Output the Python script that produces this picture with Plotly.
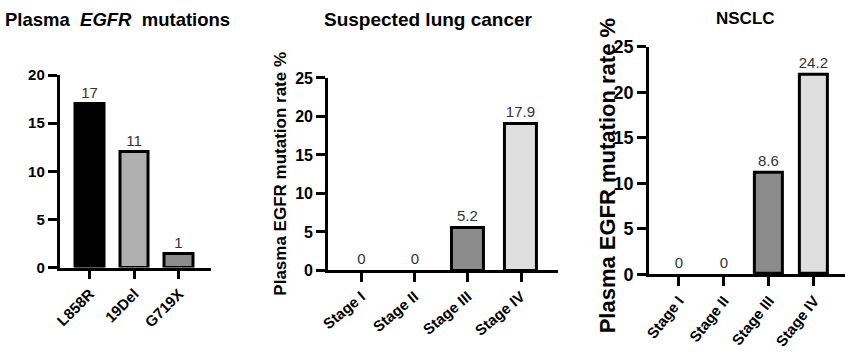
import plotly.graph_objects as go

# ---- data ----
mut_cats = ["L858R", "19Del", "G719X"]
mut_heights = [17, 12, 1.4]
mut_labels = ["17", "11", "1"]
mut_colors = ["#000000", "#b0b0b0", "#8c8c8c"]

stage_cats = ["Stage I", "Stage II", "Stage III", "Stage IV"]
susp_heights = [0, 0, 5.5, 19.0]
susp_labels = ["0", "0", "5.2", "17.9"]
nsclc_heights = [0, 0, 11.2, 21.9]
nsclc_labels = ["0", "0", "8.6", "24.2"]
stage_colors = ["#8c8c8c", "#8c8c8c", "#8c8c8c", "#dedede"]

W, H = 845, 355
FONT = "Liberation Sans, Arial, sans-serif"


def px_x(a, b):
    return [a / W, b / W]


def px_y(bottom, top):
    return [1 - bottom / H, 1 - top / H]


def outline(vals):
    return [3 if v > 0 else 0 for v in vals]


fig = go.Figure()

fig.add_trace(go.Bar(x=mut_cats, y=mut_heights, text=mut_labels, width=0.64,
                     marker=dict(color=mut_colors, line=dict(color="black", width=outline(mut_heights))),
                     textposition="outside", cliponaxis=False, constraintext="none",
                     textfont=dict(family=FONT, size=15, color="#333333"),
                     xaxis="x", yaxis="y", showlegend=False))
fig.add_trace(go.Bar(x=stage_cats, y=susp_heights, text=susp_labels, width=0.6,
                     marker=dict(color=stage_colors, line=dict(color="black", width=outline(susp_heights))),
                     textposition="outside", cliponaxis=False, constraintext="none",
                     textfont=dict(family=FONT, size=15, color="#333333"),
                     xaxis="x2", yaxis="y2", showlegend=False))
fig.add_trace(go.Bar(x=stage_cats, y=nsclc_heights, text=nsclc_labels, width=0.63,
                     marker=dict(color=stage_colors, line=dict(color="black", width=outline(nsclc_heights))),
                     textposition="outside", cliponaxis=False, constraintext="none",
                     textfont=dict(family=FONT, size=15, color="#333333"),
                     xaxis="x3", yaxis="y3", showlegend=False))

common_x = dict(showline=True, linecolor="black", linewidth=2.5, ticks="outside",
                ticklen=9, tickwidth=2.5, tickcolor="black", showgrid=False,
                zeroline=False, fixedrange=True)
common_y = dict(showline=True, linecolor="black", linewidth=2.5, ticks="outside",
                ticklen=9, tickwidth=2.5, tickcolor="black", showgrid=False,
                zeroline=False, dtick=5, tick0=0)

fig.update_layout(
    width=W, height=H, margin=dict(l=0, r=0, t=0, b=0),
    paper_bgcolor="white", plot_bgcolor="white",
    font=dict(family=FONT, color="black"),
    bargap=0,
    xaxis=dict(common_x, domain=px_x(52, 205), range=[-0.68, 2.72], anchor="y",
               tickangle=-45, tickfont=dict(family=FONT, size=15, weight="bold")),
    yaxis=dict(common_y, domain=px_y(273, 69), range=[0, 20], anchor="x",
               tickfont=dict(family=FONT, size=15, weight="bold")),
    xaxis2=dict(common_x, domain=px_x(323, 555), range=[-0.63, 3.69], anchor="y2",
                tickangle=-40, tickfont=dict(family=FONT, size=15, weight="bold")),
    yaxis2=dict(common_y, domain=px_y(276, 72), range=[0, 25], anchor="x2",
                tickfont=dict(family=FONT, size=16, weight="bold")),
    xaxis3=dict(common_x, domain=px_x(647, 845), range=[-0.66, 3.69], anchor="y3",
                tickangle=-52, tickfont=dict(family=FONT, size=15, weight="bold")),
    yaxis3=dict(common_y, domain=px_y(280, 39), range=[0, 25], anchor="x3",
                tickfont=dict(family=FONT, size=18, weight="bold")),
)

ann = [
    dict(text="<b>Plasma\u00a0 <i>EGFR</i>\u00a0 mutations</b>", x=-5 / W, y=1 - 10 / H,
         xanchor="left", yanchor="middle", font=dict(size=18.5)),
    dict(text="<b>Suspected lung cancer</b>", x=425 / W, y=1 - 10 / H,
         xanchor="center", yanchor="middle", font=dict(size=19)),
    dict(text="<b>NSCLC</b>", x=745 / W, y=1 - 9 / H,
         xanchor="center", yanchor="middle", font=dict(size=17)),
    dict(text="<b>Plasma EGFR mutation rate %</b>", x=275 / W, y=1 - 173 / H,
         xanchor="center", yanchor="middle", textangle=-90, font=dict(size=17)),
    dict(text="<b>Plasma EGFR mutation rate %</b>", x=605 / W, y=1 - 176 / H,
         xanchor="center", yanchor="middle", textangle=-90, font=dict(size=22)),
]
for a in ann:
    a.update(xref="paper", yref="paper", showarrow=False)
    a["font"] = dict(family=FONT, color="black", **a["font"])
fig.update_layout(annotations=ann)

fig.write_html("out.html")
